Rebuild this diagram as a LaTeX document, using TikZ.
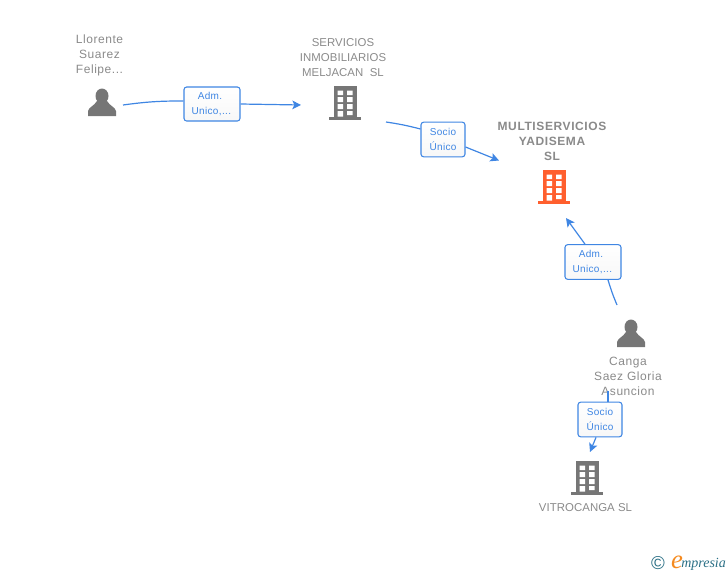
\documentclass[tikz,border=0pt]{standalone}
\usepackage{fontspec}
\setmainfont{Liberation Sans}
\newfontfamily\logofont{Liberation Serif}
\newfontfamily\namefont[LetterSpace=4.5]{Liberation Sans}
\newfontfamily\capsfont[LetterSpace=0.5]{Liberation Sans}
\newfontfamily\mainfont[LetterSpace=5]{Liberation Sans}
\newfontfamily\rolefont[LetterSpace=3.5]{Liberation Sans}
\usepackage{tikz}
\usetikzlibrary{arrows.meta, positioning}
\definecolor{linkblue}{HTML}{3F86E3}
\definecolor{icongray}{HTML}{767676}
\definecolor{textgray}{HTML}{8A8A8A}
\definecolor{mainorange}{HTML}{FF5F2E}
\definecolor{logoteal}{HTML}{2A6F85}
\definecolor{logoorange}{HTML}{F58A1F}
\tikzset{
    entity/.style={align=center, text=textgray, font=\namefont\fontsize{9}{11.25}\selectfont, inner sep=0pt},
    company/.style={entity, font=\capsfont\fontsize{8.55}{11.25}\selectfont},
    rolebox/.style={draw=linkblue, line width=0.8pt, rounded corners=2pt, top color=white, bottom color=gray!6,
        text=linkblue, align=center, font=\rolefont\fontsize{7.5}{11.25}\selectfont, inner sep=0pt},
    link/.style={draw=linkblue, line width=0.9pt, -{Stealth[length=6.5pt, width=6.5pt, inset=1.5pt]}},
    plainlink/.style={draw=linkblue, line width=0.9pt},
    building/.pic={
        \fill[pic actions] (-11.5,-17) rectangle (12,15);
        \fill[pic actions] (-16,13.5) rectangle (16,16.5);
        \fill[white] (-7.5,-12.5) rectangle (-2,-8) (2,-12.5) rectangle (7.5,-8);
        \fill[white] (-7.5,-6) rectangle (-2,-1) (2,-6) rectangle (7.5,-1);
        \fill[white] (-7.5,1) rectangle (-2,6) (2,1) rectangle (7.5,6);
        \fill[white] (-7.5,8) rectangle (-2,13.5) (2,8) rectangle (7.5,12);
    },
    person/.pic={
        \fill[pic actions] (0,-7) ellipse (6.5 and 7.5);
        \fill[pic actions] (-14,13) -- (-14,8) .. controls (-13,4) and (-8,3) .. (-5,-2)
            -- (5,-2) .. controls (8,3) and (13,4) .. (14,8) -- (14,13) -- cycle;
    }
}
\begin{document}
\begin{tikzpicture}[x=0.75pt, y=-0.75pt, >=stealth]
\useasboundingbox (0,0) rectangle (728,575);

% Icons
\pic[icongray] at (102,103) {person};
\pic[icongray] at (345,103) {building};
\pic[mainorange] at (554,187) {building};
\pic[icongray] at (631,334) {person};
\pic[icongray] at (587,478) {building};

% Names
\node[entity] (llorente) at (99.5,55.5) {Llorente\\Suarez\\Felipe...};
\node[company] (servicios) at (343,57.5) {SERVICIOS\\INMOBILIARIOS\\MELJACAN\ \ SL};
\node[entity, font=\mainfont\bfseries\fontsize{9}{11.25}\selectfont] (yadisema) at (552,141) {MULTISERVICIOS\\YADISEMA\\SL};
\node[entity] (canga) at (628,376) {Canga\\Saez Gloria\\Asuncion};
\node[company] (vitrocanga) at (585.5,507.5) {VITROCANGA SL};

% Role boxes
\node[rolebox, minimum width=42pt, minimum height=25.5pt] (adm1) at (212,104) {\hspace*{-3pt}Adm.\\\hspace*{-1pt}Unico,...};
\node[rolebox, minimum width=33pt, minimum height=26pt] (socio1) at (443,139.5) {Socio\\Único};
\node[rolebox, minimum width=42pt, minimum height=26pt] (adm2) at (593,262) {\hspace*{-3pt}Adm.\\\hspace*{-1pt}Unico,...};
\node[rolebox, minimum width=33pt, minimum height=26pt] (socio2) at (600,419.5) {Socio\\Único};

% Free ends
\coordinate (llorenteout) at (123,105);
\coordinate (serviciosin) at (301,105);
\coordinate (serviciosout) at (386,122);
\coordinate (yadisemain) at (499,160.5);
\coordinate (yadisemaup) at (566,218);
\coordinate (cangaout) at (617,305);
\coordinate (cangadown) at (608,391);
\coordinate (vitrocangain) at (590,452);

% Links
\draw[plainlink] (llorenteout) to[bend left=4] (adm1.west |- 0,101);
\draw[link] (adm1.east |- 0,104) -- (serviciosin);
\draw[plainlink] (serviciosout) to[bend left=3] (socio1.west |- 0,129);
\draw[link] (socio1.east |- 0,147) -- (yadisemain);
\draw[link] (adm2.north -| 585,0) -- (yadisemaup);
\draw[plainlink] (cangaout) to[bend left=3] (adm2.south -| 608,0);
\draw[plainlink] (cangadown) -- (socio2.north -| 608,0);
\draw[link] (socio2.south -| 596,0) -- (vitrocangain);

% Logo
\node[inner sep=0pt, text=logoteal, font=\fontsize{14}{14}\selectfont] (copyright) at (658,563) {©};
\node[inner sep=0pt, text=logoorange, font=\logofont\itshape\fontsize{20}{20}\selectfont] (logoe) at (677,562) {e};
\node[inner sep=0pt, text=logoteal, font=\logofont\itshape\fontsize{10.5}{10.5}\selectfont, anchor=west] (logotext) at (681,564) {mpresia};
\end{tikzpicture}
\end{document}
